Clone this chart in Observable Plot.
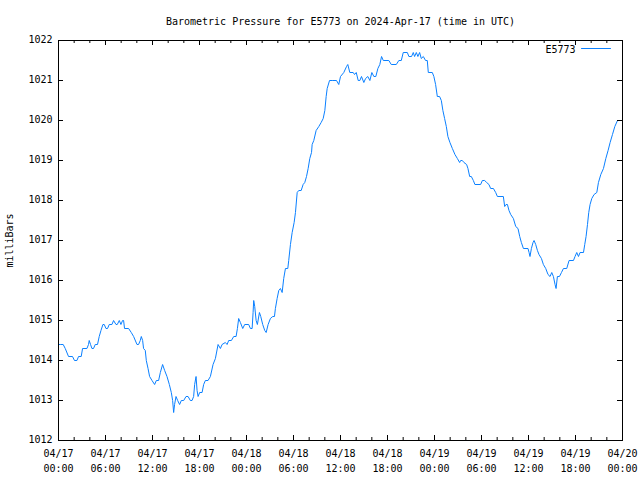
<!DOCTYPE html>
<html>
<head>
<meta charset="utf-8">
<script src="https://cdn.jsdelivr.net/npm/d3@7"></script>
<script src="https://cdn.jsdelivr.net/npm/@observablehq/plot@0.6"></script>
<style>
  html, body { margin: 0; padding: 0; background: white; }
</style>
</head>
<body>
<div id="chart"></div>
<script>
// ---- Data (hours after 2024-04-17 00:00 UTC, pressure in mbar) ----
const hours = [
  0.05, 0.22, 0.60, 0.86, 1.28, 1.79, 2.04, 2.35, 2.56, 2.90, 3.07, 3.63, 3.83, 3.92, 4.09, 4.27, 4.47, 4.69, 4.98,
  5.20, 5.42, 5.67, 5.84, 6.06, 6.26, 6.48, 6.82, 7.03, 7.34, 7.50, 7.76, 7.97, 8.18, 8.31, 8.43, 8.95, 9.29, 9.59,
  10.02, 10.22, 10.44, 10.57, 10.74, 10.86, 11.08, 11.21, 11.43, 11.63, 11.94, 12.27, 12.49, 12.78, 13.00, 13.29,
  13.55, 13.85, 14.15, 14.40, 14.57, 14.70, 14.82, 15.00, 15.21, 15.46, 15.68, 15.98, 16.28, 16.54, 16.83, 17.05,
  17.25, 17.38, 17.56, 17.69, 17.82, 18.02, 18.33, 18.53, 18.75, 19.09, 19.39, 19.73, 20.03, 20.37, 20.67, 20.88,
  21.30, 21.52, 21.73, 22.07, 22.37, 22.67, 22.84, 23.00, 23.22, 23.52, 23.77, 24.28, 24.50, 24.72, 24.84, 24.92,
  25.05, 25.23, 25.39, 25.65, 25.82, 26.07, 26.33, 26.51, 26.76, 27.05, 27.35, 27.57, 27.69, 27.91, 28.12, 28.33,
  28.55, 28.75, 28.97, 29.27, 29.39, 29.61, 29.83, 30.08, 30.25, 30.47, 30.67, 30.98, 31.23, 31.44, 31.66, 31.87,
  32.08, 32.30, 32.38, 32.59, 32.89, 33.23, 33.53, 33.79, 34.00, 34.17, 34.30, 34.60, 34.94, 35.49, 35.78, 36.00,
  36.42, 36.77, 36.93, 37.19, 37.62, 37.79, 38.01, 38.26, 38.47, 38.68, 38.98, 39.20, 39.49, 39.75, 40.00, 40.26,
  40.51, 40.77, 41.02, 41.24, 41.46, 42.17, 42.48, 43.12, 43.45, 43.76, 44.01, 44.53, 44.73, 45.07, 45.29, 45.46,
  45.68, 45.88, 46.10, 46.31, 46.57, 46.86, 47.08, 47.21, 47.72, 47.92, 48.14, 48.36, 48.65, 48.87, 49.07, 49.29,
  49.51, 49.71, 49.97, 50.28, 50.61, 50.92, 51.21, 51.34, 51.55, 51.76, 52.10, 52.27, 52.49, 52.70, 52.96, 53.16,
  53.89, 54.11, 54.40, 54.66, 54.95, 55.17, 55.52, 55.81, 56.03, 56.79, 56.96, 57.13, 57.31, 57.51, 57.73, 58.07,
  58.37, 58.66, 58.88, 59.09, 59.35, 59.94, 60.07, 60.19, 60.37, 60.58, 60.71, 60.92, 61.14, 61.34, 61.65, 61.90,
  62.20, 62.49, 62.75, 62.97, 63.18, 63.39, 63.52, 63.69, 63.95, 64.21, 64.46, 64.88, 65.18, 65.74, 65.94, 66.16,
  66.38, 66.58, 67.02, 67.18, 67.35, 67.53, 67.69, 67.86, 68.08, 68.37, 68.72, 68.93, 69.23, 69.57, 69.87, 70.16,
  70.42, 70.72, 71.02, 71.36, 71.78, 72.00
];
const pressure = [
  1014.4, 1014.4, 1014.4, 1014.3, 1014.1, 1014.1, 1014.0, 1014.0, 1014.1, 1014.1, 1014.3, 1014.3, 1014.4, 1014.5, 1014.4, 1014.3, 1014.3, 1014.4, 1014.4,
  1014.6, 1014.75, 1014.9, 1014.9, 1014.8, 1014.8, 1014.9, 1014.9, 1015.0, 1014.9, 1014.9, 1015.0, 1014.9, 1015.0, 1015.0, 1014.8, 1014.8, 1014.7, 1014.6,
  1014.4, 1014.4, 1014.5, 1014.6, 1014.5, 1014.3, 1014.25, 1014.0, 1013.8, 1013.6, 1013.5, 1013.4, 1013.5, 1013.5, 1013.7, 1013.9,
  1013.75, 1013.6, 1013.4, 1013.2, 1013.0, 1012.7, 1012.9, 1013.1, 1013.0, 1012.9, 1013.0, 1013.0, 1013.1, 1013.1, 1013.0, 1013.0,
  1013.1, 1013.4, 1013.6, 1013.25, 1013.1, 1013.2, 1013.2, 1013.4, 1013.5, 1013.5, 1013.6, 1013.9, 1014.05, 1014.4, 1014.3, 1014.4,
  1014.45, 1014.4, 1014.5, 1014.5, 1014.6, 1014.6, 1014.8, 1015.05, 1014.95, 1014.8, 1014.9, 1014.9, 1014.8, 1014.8, 1015.2, 1015.5,
  1015.35, 1015.0, 1014.9, 1015.2, 1015.1, 1014.9, 1014.75, 1014.7, 1014.9, 1015.05, 1015.1, 1015.1, 1015.3, 1015.55, 1015.75, 1015.8,
  1015.7, 1016.05, 1016.3, 1016.3, 1016.5, 1016.9, 1017.2, 1017.45, 1017.7, 1018.2, 1018.25, 1018.25, 1018.4, 1018.45, 1018.6, 1018.8,
  1019.05, 1019.2, 1019.4, 1019.5, 1019.75, 1019.85, 1019.95, 1020.05, 1020.25, 1020.6, 1020.8, 1021.0, 1021.0, 1021.0, 1020.9, 1021.1,
  1021.2, 1021.35, 1021.4, 1021.2, 1021.2, 1021.15, 1021.2, 1021.0, 1021.0, 1021.1, 1020.95, 1021.05, 1021.1, 1021.0, 1021.2, 1021.1,
  1021.1, 1021.3, 1021.4, 1021.6, 1021.5, 1021.5, 1021.4, 1021.4, 1021.5, 1021.5, 1021.7, 1021.7, 1021.6, 1021.6, 1021.7, 1021.6,
  1021.7, 1021.6, 1021.7, 1021.55, 1021.6, 1021.5, 1021.5, 1021.2, 1021.2, 1021.1, 1020.9, 1020.6, 1020.6, 1020.5, 1020.25, 1020.05,
  1019.85, 1019.6, 1019.45, 1019.3, 1019.15, 1019.05, 1018.95, 1019.0, 1019.0, 1018.95, 1018.9, 1018.8, 1018.6, 1018.6, 1018.5, 1018.4,
  1018.4, 1018.5, 1018.5, 1018.45, 1018.4, 1018.3, 1018.3, 1018.2, 1018.1, 1018.1, 1017.85, 1017.9, 1017.9, 1017.75, 1017.65, 1017.55,
  1017.35, 1017.3, 1017.1, 1016.95, 1016.8, 1016.8, 1016.7, 1016.6, 1016.8, 1016.95, 1017.0, 1016.9, 1016.75, 1016.65, 1016.55, 1016.4,
  1016.3, 1016.15, 1016.1, 1016.2, 1016.1, 1015.9, 1015.8, 1016.1, 1016.1, 1016.2, 1016.3, 1016.3, 1016.5, 1016.5, 1016.6, 1016.7,
  1016.6, 1016.7, 1016.7, 1016.9, 1017.1, 1017.4, 1017.7, 1017.9, 1018.05, 1018.15, 1018.2, 1018.45, 1018.65, 1018.8, 1019.05, 1019.25,
  1019.45, 1019.65, 1019.85, 1020.0, 1020.0, 1020.0
];
const yTicks = [1012, 1013, 1014, 1015, 1016, 1017, 1018, 1019, 1020, 1021, 1022];
const majorTickHours = [0, 6, 12, 18, 24, 30, 36, 42, 48, 54, 60, 66, 72];
const minorTickHours = [2, 4, 8, 10, 14, 16, 20, 22, 26, 28, 32, 34, 38, 40, 44, 46, 50, 52, 56, 58, 62, 64, 68, 70];
const titleText = "Barometric Pressure for E5773 on 2024-Apr-17 (time in UTC)";
const yLabel = "milliBars";
const seriesName = "E5773";

// ---- Build ----
const start = Date.UTC(2024, 3, 17, 0, 0);
const toDate = h => new Date(start + h * 3600e3);
const data = hours.map((h, i) => ({date: toDate(h), p: pressure[i]}));
const majorX = majorTickHours.map(toDate);
const minorX = minorTickHours.map(toDate);

const W = 640, H = 480, ML = 58, MR = 18, MT = 40, MB = 40;
const PW = W - ML - MR, PH = H - MT - MB;
const color = "#0a80ff";
const font = "'DejaVu Sans Mono', 'Liberation Mono', monospace";
const lineShape = {draw(context, l) { context.moveTo(0, 0); context.lineTo(0, -l); }};

const chart = Plot.plot({
  width: W, height: H,
  marginLeft: ML, marginRight: MR, marginTop: MT, marginBottom: MB,
  style: {background: "white", fontFamily: font, fontSize: "10px", color: "black"},
  x: {type: "utc", domain: [toDate(0), toDate(72)], axis: null},
  y: {domain: [1012, 1022], axis: null},
  marks: [
    Plot.line(data, {x: "date", y: "p", stroke: color, strokeWidth: 1}),
    Plot.frame({stroke: "black", strokeWidth: 1}),
    // inward ticks on all four sides
    Plot.tickY(yTicks, {y: d => d, insetRight: PW - 5, stroke: "black"}),
    Plot.tickY(yTicks, {y: d => d, insetLeft: PW - 5, stroke: "black"}),
    Plot.tickX(majorX, {x: d => d, insetTop: PH - 5, stroke: "black"}),
    Plot.tickX(majorX, {x: d => d, insetBottom: PH - 5, stroke: "black"}),
    Plot.tickX(minorX, {x: d => d, insetTop: PH - 3, stroke: "black"}),
    Plot.tickX(minorX, {x: d => d, insetBottom: PH - 3, stroke: "black"}),
    // tick labels
    Plot.axisY({ticks: yTicks, tickSize: 0, tickPadding: 6, dy: -1, tickFormat: d => String(d), label: null, fontSize: 10, fontFamily: font}),
    Plot.axisX({ticks: majorX, tickSize: 0, tickPadding: 6, tickFormat: d3.utcFormat("%m/%d\n%H:%M"), lineHeight: 1.5, label: null, fontSize: 10, fontFamily: font}),
    // title, y label, legend
    Plot.text([titleText], {frameAnchor: "top", dy: -23, fontSize: 10, fontFamily: font}),
    Plot.text([yLabel], {frameAnchor: "left", dx: -49, rotate: -90, textAnchor: "middle", fontSize: 10, fontFamily: font}),
    Plot.text([seriesName], {frameAnchor: "top-right", dx: -47, dy: 5, textAnchor: "end", fontSize: 10, fontFamily: font}),
    Plot.vector([seriesName], {frameAnchor: "top-right", dx: -12, dy: 8, length: 29, rotate: -90, anchor: "start", shape: lineShape, stroke: color, strokeWidth: 1})
  ]
});
document.getElementById("chart").appendChild(chart);
</script>
</body>
</html>
